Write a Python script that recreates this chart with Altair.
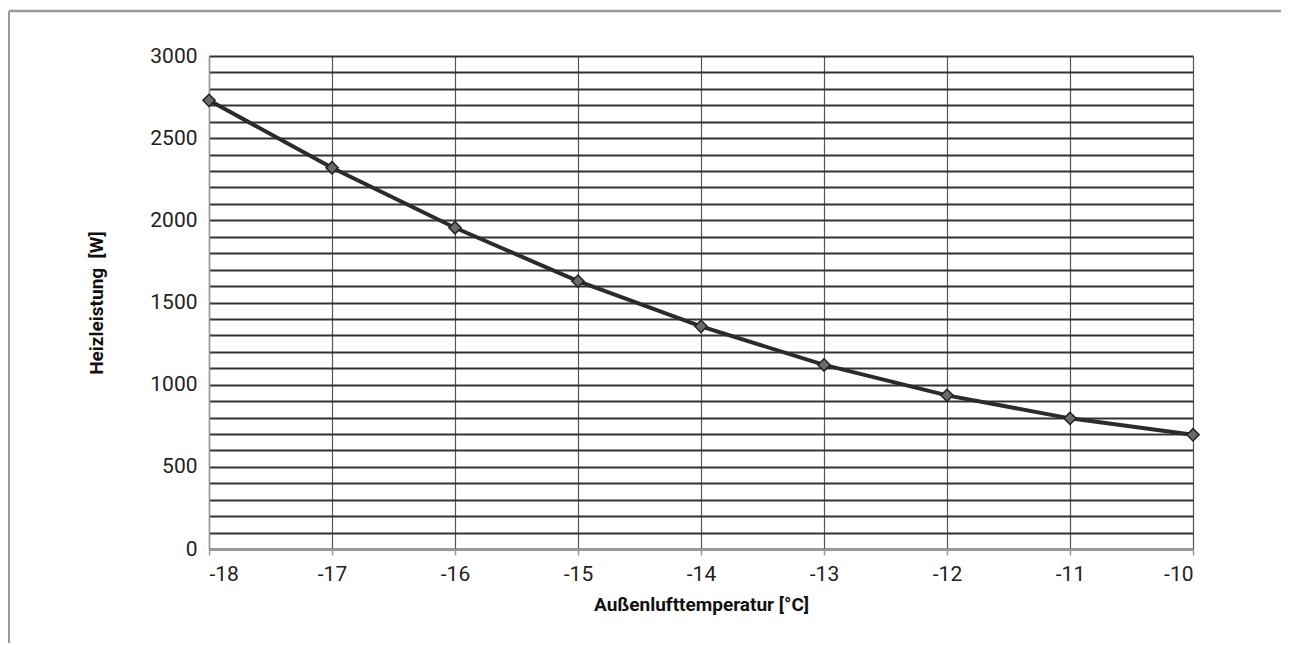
import altair as alt
import pandas as pd

temps = [-18, -17, -16, -15, -14, -13, -12, -11, -10]
power = [2730, 2320, 1955, 1630, 1355, 1120, 935, 795, 695]

df = pd.DataFrame({"t": temps, "p": power})

FONT = "Roboto"
W, H = 984, 493

xenc = alt.X("t:Q", scale=alt.Scale(domain=[-18, -10], nice=False, zero=False),
             axis=alt.Axis(values=temps, title="Außenlufttemperatur [°C]",
                           labelExpr="'' + datum.value", labelOverlap=False,
                           grid=True, gridColor="#555", gridWidth=1.2,
                           domainColor="#999", domainWidth=2,
                           tickColor="#999", tickSize=6, tickWidth=1.5,
                           labelFontSize=21, labelColor="#222", labelPadding=8,
                           titleFontSize=19, titleFontWeight="bold", titleColor="#111",
                           titlePadding=11, labelFont=FONT, titleFont=FONT))
yenc = alt.Y("p:Q", scale=alt.Scale(domain=[0, 3000], nice=False),
             axis=alt.Axis(values=list(range(0, 3001, 100)),
                           labelExpr="datum.value % 500 == 0 ? '' + datum.value : ''",
                           labelOverlap=False,
                           title="Heizleistung\u00a0\u00a0[W]",
                           grid=True, gridColor="#333", gridWidth=1.8,
                           domainColor="#999", domainWidth=1.5, ticks=False,
                           labelFontSize=21, labelColor="#222", labelPadding=12,
                           titleFontSize=19, titleFontWeight="bold", titleColor="#111",
                           titlePadding=43, labelFont=FONT, titleFont=FONT))

base = alt.Chart(df).encode(x=xenc, y=yenc)
line = base.mark_line(color="#2b2b2b", strokeWidth=4)
pts = base.mark_point(shape="diamond", filled=True, fill="#6a6a6a",
                      stroke="#222", strokeWidth=1.5, size=150, opacity=1)

frame_top = alt.Chart(pd.DataFrame({"a": [0]})).mark_rule(color="#999", strokeWidth=2.5).encode(
    x=alt.value(-200), x2=alt.value(1200), y=alt.value(-45))
frame_left = alt.Chart(pd.DataFrame({"a": [0]})).mark_rule(color="#999", strokeWidth=2).encode(
    x=alt.value(-200), y=alt.value(-45), y2=alt.value(700))

chart = alt.layer(line, pts, frame_top, frame_left).properties(
    width=W, height=H,
    autosize=alt.AutoSizeParams(type="none"),
    padding={"left": 201, "top": 48, "right": 88, "bottom": 94},
).configure_view(stroke="#999", strokeWidth=2).configure(background="white")

chart.save("out.html", embed_options={"renderer": "svg", "actions": False})
